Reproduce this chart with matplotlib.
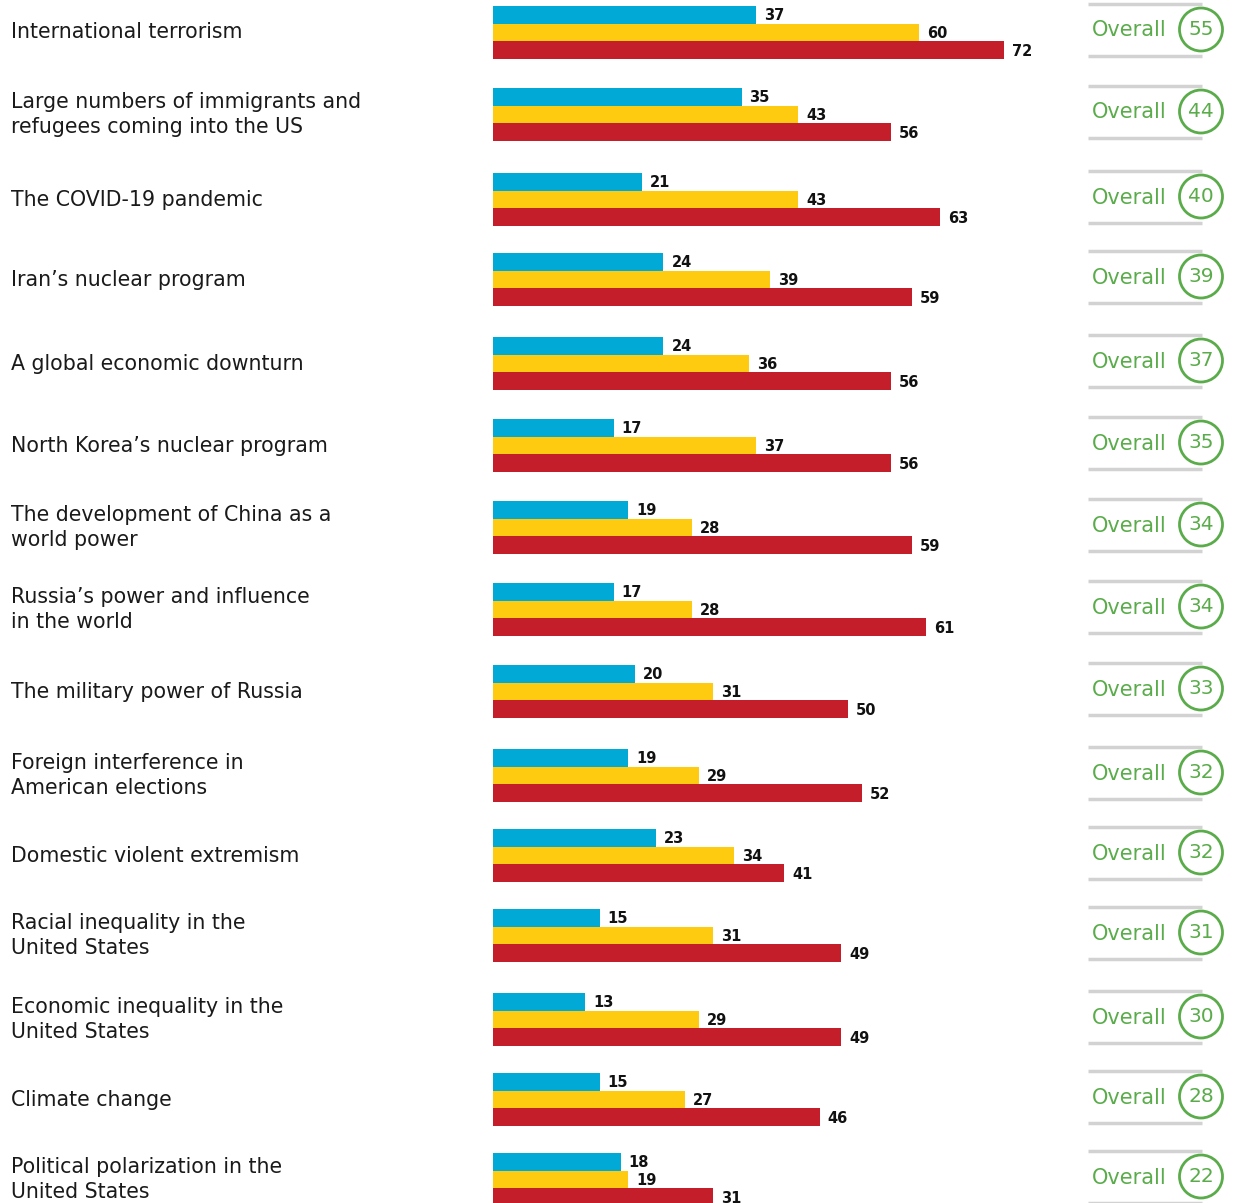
import matplotlib
matplotlib.use("Agg")
import matplotlib.pyplot as plt
from matplotlib.patches import Circle

categories = [
    "International terrorism",
    "Large numbers of immigrants and\nrefugees coming into the US",
    "The COVID-19 pandemic",
    "Iran\u2019s nuclear program",
    "A global economic downturn",
    "North Korea\u2019s nuclear program",
    "The development of China as a\nworld power",
    "Russia\u2019s power and influence\nin the world",
    "The military power of Russia",
    "Foreign interference in\nAmerican elections",
    "Domestic violent extremism",
    "Racial inequality in the\nUnited States",
    "Economic inequality in the\nUnited States",
    "Climate change",
    "Political polarization in the\nUnited States",
]
blue_vals = [37, 35, 21, 24, 24, 17, 19, 17, 20, 19, 23, 15, 13, 15, 18]
yellow_vals = [60, 43, 43, 39, 36, 37, 28, 28, 31, 29, 34, 31, 29, 27, 19]
red_vals = [72, 56, 63, 59, 56, 56, 59, 61, 50, 52, 41, 49, 49, 46, 31]
overall_vals = [55, 44, 40, 39, 37, 35, 34, 34, 33, 32, 32, 31, 30, 28, 22]

# layout: pixel centre of each group (from top of image)
group_centers = [32.5, 114.5, 199.5, 279.5, 363.5, 445.5, 527.5, 609.5,
                 691.5, 775.5, 855.5, 935.5, 1019.5, 1099.5, 1179.5]

W, H = 1236, 1203
fig = plt.figure(figsize=(W / 100, H / 100), dpi=100)

BLUE = "#00a9d6"
YELLOW = "#fecb10"
RED = "#c41e2b"
GREEN = "#5aac4a"
GRAY = "#d2d2d2"

bar_px = 17.6
px_per_unit = 7.1
x_left = 493

# Bar axes (y in pixels, x in value units)
ax = fig.add_axes([x_left / W, 0, (W - x_left) / W, 1])
ax.set_xlim(0, (W - x_left) / px_per_unit)
ax.set_ylim(H, 0)
ax.axis("off")
n = len(categories)
for i in range(n):
    c = group_centers[i]
    for k, (vals, col) in enumerate([(blue_vals, BLUE), (yellow_vals, YELLOW), (red_vals, RED)]):
        yc = c + (k - 1) * bar_px
        ax.barh(yc, vals[i], height=bar_px, color=col, linewidth=0)
        ax.text(vals[i] + 8 / px_per_unit, yc + 1, str(vals[i]), fontsize=10.5,
                fontweight="bold", va="center", ha="left", color="#111111")

# Overlay axes in pixel coords
ov = fig.add_axes([0, 0, 1, 1])
ov.set_xlim(0, W)
ov.set_ylim(H, 0)
ov.axis("off")
for i in range(n):
    c = group_centers[i]
    ov.text(11, c, categories[i], fontsize=14.8, va="center", ha="left",
            color="#1a1a1a", linespacing=1.32)
    oc = c - 2
    ov.plot([1088, 1202], [oc - 27, oc - 27], color=GRAY, lw=2.5, solid_capstyle="butt")
    ov.plot([1088, 1202], [oc + 25, oc + 25], color=GRAY, lw=2.5, solid_capstyle="butt")
    ov.text(1092, oc, "Overall", fontsize=15, color=GREEN, va="center", ha="left")
    ov.add_patch(Circle((1201, oc - 1), 21.5, fill=True, facecolor="white",
                        edgecolor=GREEN, lw=2))
    ov.text(1201, oc - 1, str(overall_vals[i]), fontsize=14.5, color=GREEN,
            va="center", ha="center")

fig.savefig("out.png", dpi=100)
